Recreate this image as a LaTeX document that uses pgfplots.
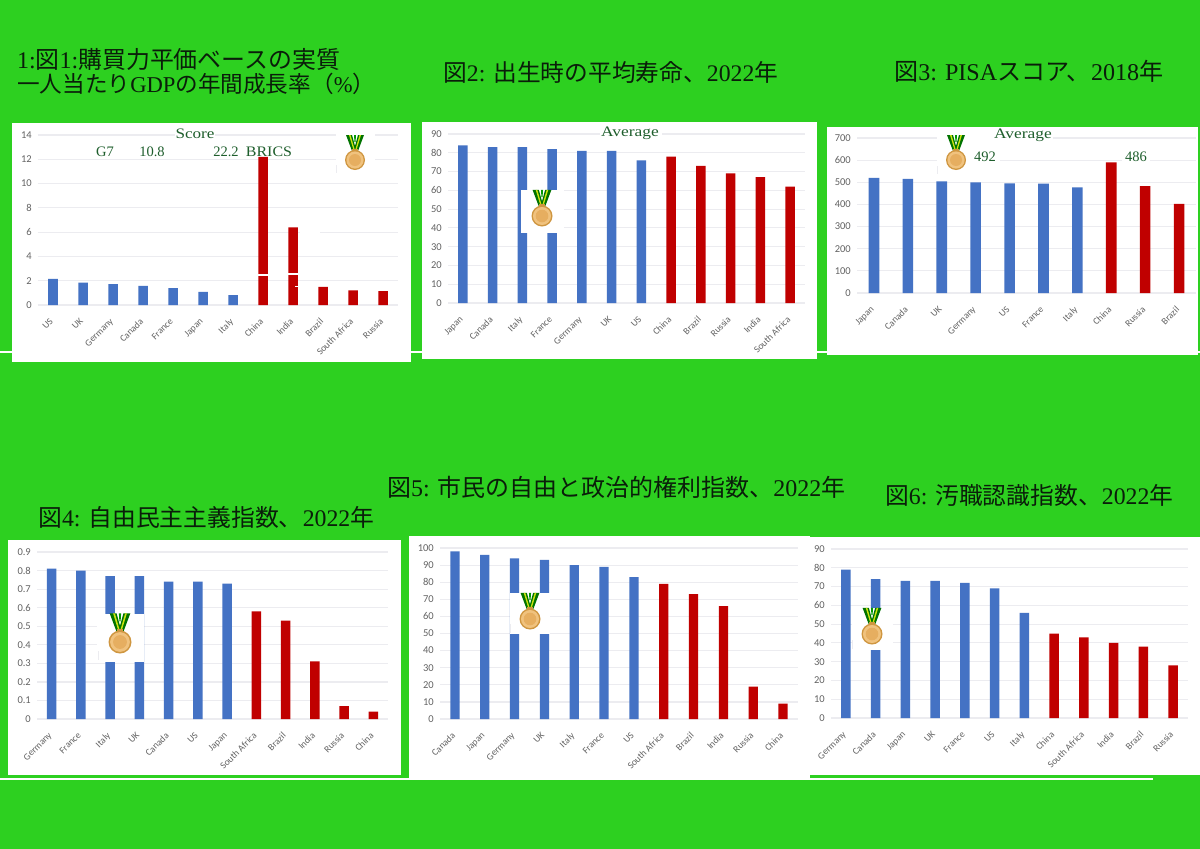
\documentclass[border=0pt]{standalone}
\usepackage{fontspec}
\usepackage{pgfplots}
\pgfplotsset{compat=1.18}
\setmainfont{Liberation Serif}
\newfontfamily\cjk{Noto Sans CJK JP}
\newfontfamily\tickf{Carlito}
\definecolor{bg}{HTML}{2DD020}
\definecolor{barblue}{HTML}{4472C4}
\definecolor{barred}{HTML}{C00000}
\definecolor{gridc}{HTML}{ECECF0}
\definecolor{tickc}{HTML}{636363}
\definecolor{notec}{HTML}{1E5E2C}
\definecolor{titlec}{HTML}{0A1E0A}
\definecolor{gold1}{HTML}{CF9640}
\definecolor{gold2}{HTML}{F0C27E}
\definecolor{gold3}{HTML}{E6AE60}
\newcommand\J[1]{{\cjk #1}}
\newcommand\ttl[4]{\node[anchor=west,inner sep=0pt,text=titlec] at (#1,#2) {\resizebox{#3pt}{!}{\fontsize{24}{28}\selectfont #4}};}
\newcommand\note[4][1]{\node[inner sep=0pt,text=notec] at (#2,#3) {\scalebox{#1}[1]{\fontsize{14.5}{15}\selectfont #4}};}
\newcommand\patch[4]{\fill[white] (#1,#2) rectangle (#3,#4);}
% decorative medal: centre x, centre y, scale (1 = radius 10)
\newcommand\medal[3]{%
\begin{scope}[shift={(#1,#2)},scale=#3]
\fill[green!45!black] (-9,-25) -- (-3,-25) -- (0,-14) -- (3,-25) -- (9,-25) -- (3,-9) -- (-3,-9) -- cycle;
\fill[yellow!80!green] (-6,-25) -- (-4.5,-25) -- (-0.5,-11) -- (-1.8,-11) -- cycle;
\fill[yellow!80!green] (6,-25) -- (4.5,-25) -- (0.5,-11) -- (1.8,-11) -- cycle;
\fill[green!60!black] (-1,-25) -- (1,-25) -- (0.5,-18) -- (-0.5,-18) -- cycle;
\fill[gold1] (-3,-11.5) rectangle (3,-9);
\fill[gold1] (0,0) circle (10);
\fill[gold2] (0,0) circle (8.6);
\fill[gold3] (0,0) circle (6);
\end{scope}}
\pgfplotsset{
  panel/.style={
    scale only axis, anchor=south west, ybar,
    every axis plot/.append style={bar shift=0pt,draw=none},
    xmin=-0.5, ymin=0,
    axis line style={draw=none},
    major tick length=0pt,
    ymajorgrids, grid style={gridc,line width=1.2pt},
    xticklabel style={xshift=-3.8pt,yshift=-11pt,rotate=45,anchor=north east,inner sep=1pt,
      font=\tickf\fontsize{9.5}{11}\selectfont,text=tickc},
    yticklabel style={inner sep=1pt,xshift=-5pt,
      font=\tickf\fontsize{10.5}{12}\selectfont,text=tickc,
      /pgf/number format/assume math mode=true,/pgf/number format/fixed},
  }
}
\begin{document}
\begin{tikzpicture}[x=1pt,y=-1pt]
\fill[bg] (0,0) rectangle (1200,849);
\fill[white] (0,351.2) rectangle (1200,352.8);
\fill[white] (0,777.5) rectangle (1153,779.5);
% white panels
\fill[white] (12,123) rectangle (411,362);
\fill[white] (422,122) rectangle (817,359);
\fill[white] (827,127) rectangle (1198,355);
\fill[white] (8,540) rectangle (401,775);
\fill[white] (409,536) rectangle (810,778);
\fill[white] (810,537) rectangle (1200,775);
% titles
\ttl{17}{59}{323}{1:\J{図}1:\J{購買力平価ベースの実質}}
\ttl{17}{84}{358}{\J{一人当たり}GDP\J{の年間成長率（}\%\J{）}}
\ttl{443}{72}{335}{\J{図}2: \J{出生時の平均寿命、}2022\J{年}}
\ttl{894}{71}{269}{\J{図}3: PISA\J{スコア、}2018\J{年}}
\ttl{38}{517}{336}{\J{図}4: \J{自由民主主義指数、}2022\J{年}}
\ttl{387}{487}{458}{\J{図}5: \J{市民の自由と政治的権利指数、}2022\J{年}}
\ttl{885}{495}{288}{\J{図}6: \J{汚職認識指数、}2022\J{年}}
% ---------- Figure 1
\begin{axis}[panel, at={(38pt,-305pt)}, width=360pt, height=170pt, bar width=9.5pt,
  xmax=11.5, ymax=14, ytick={0,2,4,6,8,10,12,14},
  xtick={0,...,11},
  xticklabels={US,UK,Germany,Canada,France,Japan,Italy,China,India,Brazil,South Africa,Russia}]
\addplot[fill=barblue] coordinates {(0,2.15)(1,1.85)(2,1.72)(3,1.58)(4,1.4)(5,1.08)(6,0.82)};
\addplot[fill=barred] coordinates {(7,12.2)(8,6.4)(9,1.5)(10,1.2)(11,1.15)};
\end{axis}
\patch{175}{127}{215}{146}
\patch{92}{146}{172}{158}
\patch{210}{146}{257}{158}
\patch{336}{128}{375}{174}
\patch{258}{274.3}{268}{276}
\patch{288}{272.8}{298}{275.2}
\patch{295}{285.5}{299}{287}
\patch{300}{225}{320}{240}
\draw[gridc,line width=1pt] (336,165)--(336,173);
\note[1.18]{195}{134}{Score}
\note{105}{152}{G7}
\note{152}{152}{10.8}
\note{226}{152}{22.2}
\note[1.1]{269}{152}{BRICS}
\medal{355}{160}{1}
% ---------- Figure 2
\begin{axis}[panel, at={(448pt,-303pt)}, width=357pt, height=169pt, bar width=9.3pt,
  xmax=11.5, ymax=90, ytick={0,10,...,90},
  xtick={0,...,11},
  xticklabels={Japan,Canada,Italy,France,Germany,UK,US,China,Brazil,Russia,India,South Africa}]
\addplot[fill=barblue] coordinates {(0,84)(1,83)(2,83)(3,82)(4,81)(5,81)(6,76)};
\addplot[fill=barred] coordinates {(7,78)(8,73)(9,69)(10,67)(11,62)};
\end{axis}
\patch{521}{190}{564}{233}
\patch{600}{127}{662}{141}
\note[1.2]{630}{133}{Average}
\medal{542}{216}{1.05}
% ---------- Figure 3
\begin{axis}[panel, at={(857pt,-293pt)}, width=339pt, height=155pt, bar width=10.6pt,
  xmax=9.5, ymax=700, ytick={0,100,...,700},
  xtick={0,...,9},
  xticklabels={Japan,Canada,UK,Germany,US,France,Italy,China,Russia,Brazil}]
\addplot[fill=barblue] coordinates {(0,520)(1,516)(2,504)(3,500)(4,495)(5,494)(6,477)};
\addplot[fill=barred] coordinates {(7,590)(8,483)(9,402)};
\end{axis}
\patch{937}{130}{1000}{174}
\patch{993}{130}{1053}{143}
\patch{1122}{150}{1150}{165}
\draw[gridc,line width=1pt] (937,166)--(937,174);
\note[1.2]{1023}{135}{Average}
\note{985}{157}{492}
\note{1136}{157}{486}
\medal{956}{160}{1}
% ---------- Figure 4
\begin{axis}[panel, at={(37pt,-719pt)}, width=351pt, height=167pt, bar width=9.3pt,
  xmax=11.5, ymax=0.9, ytick={0,0.1,0.2,0.3,0.4,0.5,0.6,0.7,0.8,0.9},
  xtick={0,...,11},
  xticklabels={Germany,France,Italy,UK,Canada,US,Japan,South Africa,Brazil,India,Russia,China}]
\addplot[fill=barblue] coordinates {(0,0.81)(1,0.80)(2,0.77)(3,0.77)(4,0.74)(5,0.74)(6,0.73)};
\addplot[fill=barred] coordinates {(7,0.58)(8,0.53)(9,0.31)(10,0.07)(11,0.04)};
\end{axis}
\patch{97}{614}{144}{662}
\draw[gridc,line width=1pt] (98,651)--(98,660);
\medal{120}{642}{1.15}
% ---------- Figure 5
\begin{axis}[panel, at={(440pt,-719pt)}, width=358pt, height=171pt, bar width=9.3pt,
  xmax=11.5, ymax=100, ytick={0,10,...,100},
  xtick={0,...,11},
  xticklabels={Canada,Japan,Germany,UK,Italy,France,US,South Africa,Brazil,India,Russia,China}]
\addplot[fill=barblue] coordinates {(0,98)(1,96)(2,94)(3,93)(4,90)(5,89)(6,83)};
\addplot[fill=barred] coordinates {(7,79)(8,73)(9,66)(10,19)(11,9)};
\end{axis}
\patch{510}{593}{550}{634}
\draw[gridc,line width=1pt] (510.5,624)--(510.5,633);
\medal{530}{619}{1.05}
% ---------- Figure 6
\begin{axis}[panel, at={(831pt,-718pt)}, width=357pt, height=169pt, bar width=9.3pt,
  xmax=11.5, ymax=90, ytick={0,10,...,90},
  xtick={0,...,11},
  xticklabels={Germany,Canada,Japan,UK,France,US,Italy,China,South Africa,India,Brazil,Russia}]
\addplot[fill=barblue] coordinates {(0,79)(1,74)(2,73)(3,73)(4,72)(5,69)(6,56)};
\addplot[fill=barred] coordinates {(7,45)(8,43)(9,40)(10,38)(11,28)};
\end{axis}
\patch{852}{608}{893}{649.5}
\draw[gridc,line width=1pt] (852.5,640)--(852.5,649);
\medal{872}{634}{1.05}
\fill[bg] (810,774.5) rectangle (1200,775.5);
\end{tikzpicture}
\end{document}
